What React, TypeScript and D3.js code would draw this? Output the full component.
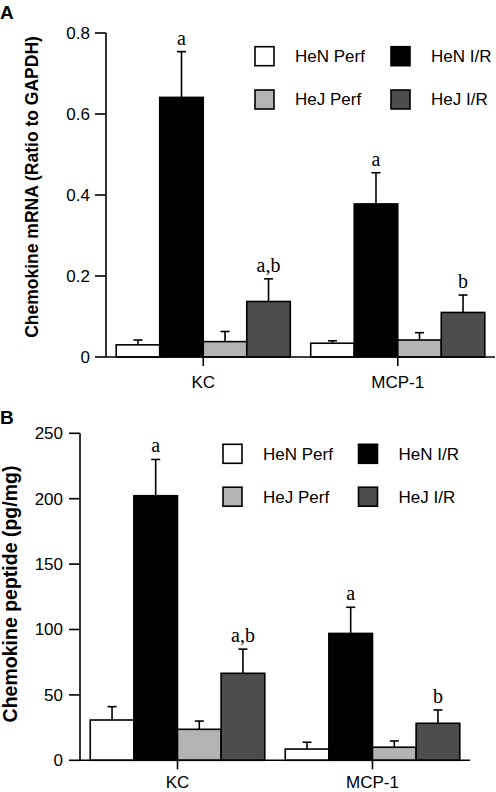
import React from "react";
import * as d3 from "d3";

const categories = ["KC", "MCP-1"];
const seriesNames = ["HeN Perf", "HeN I/R", "HeJ Perf", "HeJ I/R"];
const seriesColors = ["#ffffff", "#000000", "#b3b3b3", "#4d4d4d"];

// Panel A: chemokine mRNA (ratio to GAPDH)
const mrnaKC = [0.030, 0.641, 0.038, 0.137];
const mrnaKCErr = [0.012, 0.113, 0.025, 0.056];
const mrnaMCP1 = [0.034, 0.378, 0.042, 0.110];
const mrnaMCP1Err = [0.006, 0.077, 0.018, 0.043];
const mrnaTicks = [0, 0.2, 0.4, 0.6, 0.8];

// Panel B: chemokine peptide (pg/mg)
const peptideKC = [30.8, 202.3, 23.7, 66.5];
const peptideKCErr = [10.2, 27.7, 6.3, 18.5];
const peptideMCP1 = [8.6, 97.0, 10.0, 28.3];
const peptideMCP1Err = [5.2, 20.0, 4.8, 10.2];
const peptideTicks = [0, 50, 100, 150, 200, 250];

const annotKC = ["", "a", "", "a,b"];
const annotMCP1 = ["", "a", "", "b"];

const SANS = "'Liberation Sans', Arial, Helvetica, sans-serif";
const SERIF = "'Liberation Serif', 'Times New Roman', serif";

type PanelProps = {
  label: string;
  labelY: number;
  title: string;
  titleX: number;
  titleY: number;
  titleSize: number;
  x0: number;
  x1: number;
  yTop: number;
  yBottom: number;
  yMax: number;
  ticks: number[];
  tickFmt: (v: number) => string;
  tickLabelX: number;
  means: number[][];
  errs: number[][];
  legendX: number[];
  legendY: number[];
  catLabelY: number;
};

function Panel(p: PanelProps) {
  const y = d3.scaleLinear().domain([0, p.yMax]).range([p.yBottom, p.yTop]);
  const xb = d3
    .scaleBand<string>()
    .domain(categories)
    .range([p.x0, p.x1])
    .paddingInner(0.105)
    .paddingOuter(0.0525);
  const xs = d3
    .scaleBand<string>()
    .domain(seriesNames)
    .range([0, xb.bandwidth()])
    .padding(0);
  const annots = [annotKC, annotMCP1];
  const sw = 1.6;
  return (
    <g>
      <text x={0} y={p.labelY} fontFamily={SANS} fontWeight="bold" fontSize={19}>
        {p.label}
      </text>
      <text
        transform={`translate(${p.titleX},${p.titleY}) rotate(-90)`}
        textAnchor="middle"
        fontFamily={SANS}
        fontWeight="bold"
        fontSize={p.titleSize}
      >
        {p.title}
      </text>
      {/* bars */}
      {categories.map((c, ci) => (
        <g key={c}>
          {seriesNames.map((s, si) => {
            const v = p.means[ci][si];
            const e = p.errs[ci][si];
            const bx = (xb(c) as number) + (xs(s) as number);
            const bw = xs.bandwidth();
            const cx = bx + bw / 2;
            const top = y(v);
            const et = y(v + e);
            return (
              <g key={s}>
                <line x1={cx} x2={cx} y1={top} y2={et} stroke="#000" strokeWidth={sw} />
                <line x1={cx - 4.5} x2={cx + 4.5} y1={et} y2={et} stroke="#000" strokeWidth={sw} />
                <rect
                  x={bx}
                  y={top}
                  width={bw}
                  height={p.yBottom - top}
                  fill={seriesColors[si]}
                  stroke="#000"
                  strokeWidth={sw}
                />
                {annots[ci][si] && (
                  <text
                    x={cx}
                    y={et - 7}
                    textAnchor="middle"
                    fontFamily={SERIF}
                    fontSize={20}
                  >
                    {annots[ci][si]}
                  </text>
                )}
              </g>
            );
          })}
        </g>
      ))}
      {/* y axis */}
      <line x1={p.x0} x2={p.x0} y1={y(p.yMax)} y2={p.yBottom} stroke="#000" strokeWidth={sw} />
      {p.ticks.map((t) => (
        <g key={t}>
          <line x1={p.x0 - 11} x2={p.x0} y1={y(t)} y2={y(t)} stroke="#000" strokeWidth={sw} />
          <text
            x={p.tickLabelX}
            y={y(t)}
            dy="0.35em"
            textAnchor="end"
            fontFamily={SANS}
            fontSize={17}
          >
            {p.tickFmt(t)}
          </text>
        </g>
      ))}
      {/* x axis */}
      <line x1={p.x0} x2={p.x1} y1={p.yBottom} y2={p.yBottom} stroke="#000" strokeWidth={sw} />
      {categories.map((c) => {
        const cx = (xb(c) as number) + xb.bandwidth() / 2;
        return (
          <g key={c}>
            <line x1={cx} x2={cx} y1={p.yBottom} y2={p.yBottom + 9} stroke="#000" strokeWidth={sw} />
            <text x={cx} y={p.catLabelY} textAnchor="middle" fontFamily={SANS} fontSize={17}>
              {c}
            </text>
          </g>
        );
      })}
      {/* legend */}
      {seriesNames.map((s, si) => {
        const col = si % 2;
        const row = Math.floor(si / 2);
        const lx = p.legendX[col];
        const ly = p.legendY[row];
        return (
          <g key={s}>
            <rect
              x={lx}
              y={ly - 9.5}
              width={19}
              height={19}
              fill={seriesColors[si]}
              stroke="#000"
              strokeWidth={sw}
            />
            <text x={lx + 40} y={ly} dy="0.35em" fontFamily={SANS} fontSize={17}>
              {s}
            </text>
          </g>
        );
      })}
    </g>
  );
}

export default function App() {
  return (
    <svg
      width={496}
      height={792}
      style={{ position: "absolute", left: 0, top: 0, background: "#fff" }}
    >
      <rect width={496} height={792} fill="#fff" />
      <Panel
        label="A"
        labelY={19}
        title="Chemokine mRNA (Ratio to GAPDH)"
        titleX={38}
        titleY={187}
        titleSize={17.5}
        x0={106}
        x1={495}
        yTop={33}
        yBottom={357}
        yMax={0.8}
        ticks={mrnaTicks}
        tickFmt={(v) => (v === 0 ? "0" : d3.format(".1f")(v))}
        tickLabelX={90}
        means={[mrnaKC, mrnaMCP1]}
        errs={[mrnaKCErr, mrnaMCP1Err]}
        legendX={[255, 391]}
        legendY={[56.2, 99.5]}
        catLabelY={388}
      />
      <Panel
        label="B"
        labelY={424}
        title="Chemokine peptide (pg/mg)"
        titleX={17}
        titleY={594}
        titleSize={19.5}
        x0={80}
        x1={470}
        yTop={433.3}
        yBottom={760.3}
        yMax={250}
        ticks={peptideTicks}
        tickFmt={(v) => String(v)}
        tickLabelX={63}
        means={[peptideKC, peptideMCP1]}
        errs={[peptideKCErr, peptideMCP1Err]}
        legendX={[223, 358.5]}
        legendY={[453.8, 496.7]}
        catLabelY={787.5}
      />
    </svg>
  );
}
